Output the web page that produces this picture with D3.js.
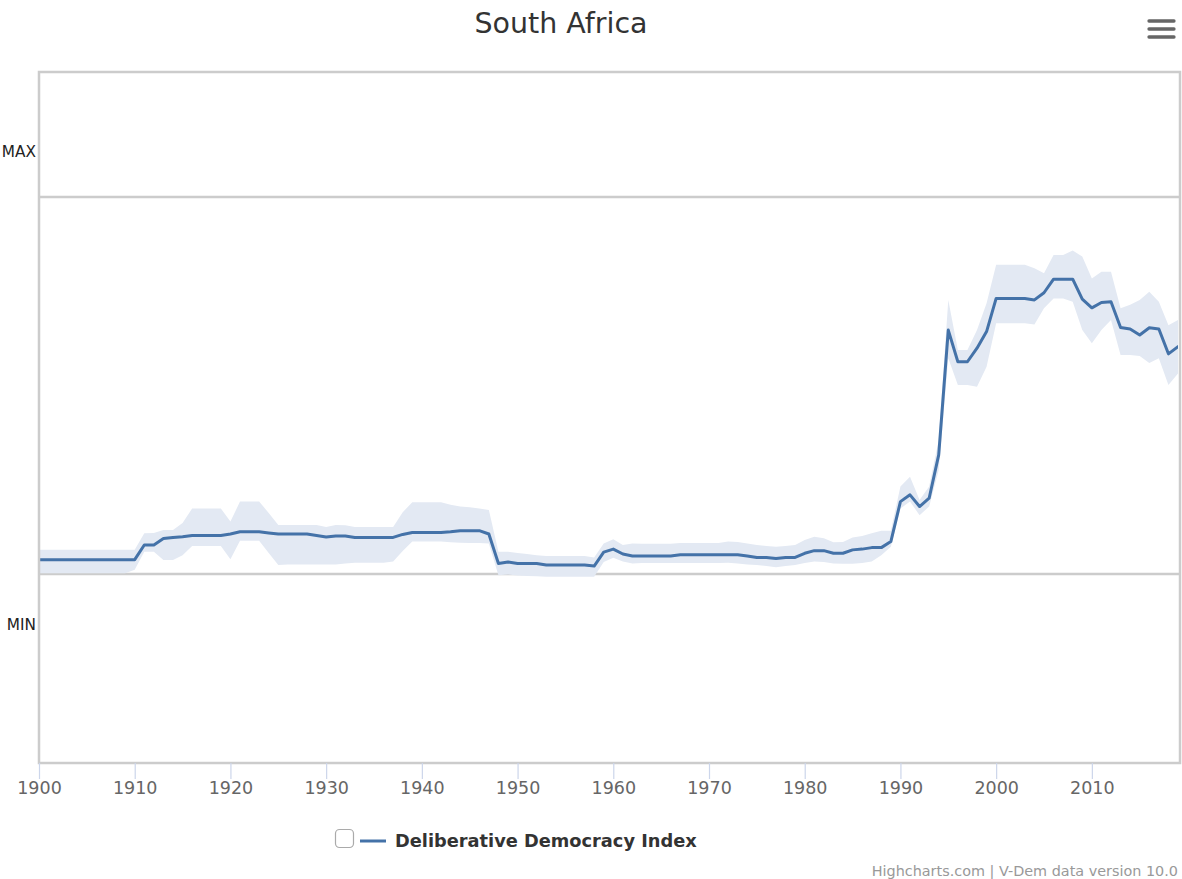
<!DOCTYPE html>
<html>
<head>
<meta charset="utf-8">
<script src="https://cdn.jsdelivr.net/npm/d3@7"></script>
<style>
  html, body { margin: 0; padding: 0; background: #fff; }
  svg { display: block; }
  text { font-family: "DejaVu Sans", "Lucida Grande", sans-serif; }
</style>
</head>
<body>
<div id="chart"></div>
<script>
const title = "South Africa";
const seriesName = "Deliberative Democracy Index";
const credits = "Highcharts.com | V-Dem data version 10.0";
const startYear = 1900;
const endYear = 2019;
const xTicks = [1900, 1910, 1920, 1930, 1940, 1950, 1960, 1970, 1980, 1990, 2000, 2010];
const yPlotLines = [{ value: 0, label: "MIN" }, { value: 1, label: "MAX" }];

const ddi = [
  0.038,0.038,0.038,0.038,0.038,0.038,0.038,0.038,0.038,0.038,
  0.038,0.077,0.077,0.094,0.097,0.099,0.102,0.102,0.102,0.102,
  0.106,0.112,0.112,0.112,0.109,0.106,0.106,0.106,0.106,0.102,
  0.098,0.101,0.101,0.097,0.097,0.097,0.097,0.097,0.105,0.110,
  0.110,0.110,0.110,0.112,0.115,0.115,0.115,0.106,0.028,0.032,
  0.028,0.028,0.028,0.024,0.024,0.024,0.024,0.024,0.021,0.058,
  0.066,0.053,0.048,0.048,0.048,0.048,0.048,0.051,0.051,0.051,
  0.051,0.051,0.051,0.051,0.048,0.044,0.044,0.041,0.044,0.044,
  0.055,0.062,0.062,0.055,0.055,0.064,0.066,0.070,0.070,0.086,
  0.192,0.210,0.179,0.201,0.316,0.647,0.563,0.563,0.599,0.643,
  0.731,0.731,0.731,0.731,0.727,0.746,0.782,0.782,0.782,0.729,
  0.706,0.720,0.722,0.654,0.650,0.634,0.653,0.650,0.584,0.603
];
const ddiHigh = [
  0.064,0.064,0.064,0.064,0.064,0.064,0.064,0.064,0.064,0.064,
  0.064,0.108,0.109,0.117,0.117,0.135,0.174,0.174,0.174,0.174,
  0.139,0.192,0.192,0.192,0.162,0.130,0.130,0.130,0.130,0.130,
  0.125,0.130,0.129,0.125,0.125,0.125,0.125,0.125,0.164,0.190,
  0.190,0.190,0.190,0.184,0.179,0.177,0.174,0.170,0.059,0.059,
  0.056,0.053,0.050,0.048,0.048,0.048,0.048,0.048,0.044,0.081,
  0.092,0.077,0.081,0.080,0.080,0.080,0.080,0.082,0.082,0.082,
  0.082,0.082,0.086,0.085,0.081,0.077,0.074,0.072,0.074,0.077,
  0.090,0.099,0.095,0.084,0.085,0.097,0.101,0.108,0.115,0.115,
  0.232,0.258,0.196,0.232,0.355,0.727,0.594,0.594,0.647,0.718,
  0.820,0.820,0.820,0.820,0.811,0.798,0.846,0.846,0.858,0.842,
  0.784,0.802,0.802,0.705,0.714,0.727,0.749,0.722,0.660,0.674
];
const ddiLow = [
  0.002,0.002,0.002,0.002,0.002,0.002,0.002,0.002,0.002,0.002,
  0.011,0.059,0.059,0.037,0.037,0.050,0.074,0.074,0.074,0.074,
  0.039,0.088,0.088,0.088,0.056,0.024,0.025,0.025,0.025,0.025,
  0.025,0.025,0.028,0.030,0.030,0.030,0.030,0.033,0.061,0.086,
  0.086,0.086,0.086,0.084,0.083,0.082,0.082,0.081,-0.003,-0.001,
  -0.004,-0.005,-0.006,-0.007,-0.007,-0.007,-0.007,-0.007,-0.007,0.032,
  0.043,0.033,0.028,0.029,0.029,0.029,0.029,0.029,0.029,0.029,
  0.029,0.029,0.030,0.028,0.025,0.024,0.021,0.018,0.021,0.024,
  0.029,0.033,0.032,0.028,0.027,0.027,0.029,0.033,0.050,0.072,
  0.174,0.192,0.156,0.179,0.276,0.572,0.501,0.501,0.497,0.550,
  0.665,0.665,0.665,0.665,0.662,0.705,0.731,0.731,0.722,0.647,
  0.612,0.647,0.674,0.581,0.581,0.578,0.560,0.572,0.501,0.532
];

const W = 1182, H = 879;
const plot = { left: 39, right: 1178, top: 72, bottom: 763 };
const lineColor = "#4472a8";
const bandColor = "#e3e9f3";

const svg = d3.select("#chart").append("svg").attr("width", W).attr("height", H);

const x = d3.scaleLinear().domain([startYear, endYear]).range([plot.left, plot.right]);
const y = d3.scaleLinear().domain([0, 1]).range([574, 197]);

const data = ddi.map((v, i) => ({ year: startYear + i, v, lo: ddiLow[i], hi: ddiHigh[i] }));

// title
svg.append("text").attr("x", 561).attr("y", 33).attr("text-anchor", "middle")
  .attr("font-size", 28.5).attr("fill", "#333").text(title);

// menu icon
[21, 29, 37].forEach(yy => {
  svg.append("line").attr("x1", 1149).attr("x2", 1174).attr("y1", yy).attr("y2", yy)
    .attr("stroke", "#666").attr("stroke-width", 3.3).attr("stroke-linecap", "round");
});

// clip
svg.append("clipPath").attr("id", "clip").append("rect")
  .attr("x", plot.left).attr("y", plot.top)
  .attr("width", plot.right - plot.left).attr("height", plot.bottom - plot.top);

// plot lines
yPlotLines.forEach(p => {
  svg.append("line").attr("x1", plot.left).attr("x2", plot.right + 2)
    .attr("y1", y(p.value)).attr("y2", y(p.value))
    .attr("stroke", "#cccccc").attr("stroke-width", 2.5);
});

const g = svg.append("g").attr("clip-path", "url(#clip)");

g.append("path").datum(data)
  .attr("d", d3.area().x(d => x(d.year)).y0(d => y(d.lo)).y1(d => y(d.hi)))
  .attr("fill", bandColor);

g.append("path").datum(data)
  .attr("d", d3.line().x(d => x(d.year)).y(d => y(d.v)))
  .attr("fill", "none").attr("stroke", lineColor).attr("stroke-width", 3)
  .attr("stroke-linejoin", "round").attr("stroke-linecap", "round");

// plot border
svg.append("rect").attr("x", plot.left).attr("y", plot.top)
  .attr("width", plot.right + 2 - plot.left).attr("height", plot.bottom - plot.top)
  .attr("fill", "none").attr("stroke", "#cccccc").attr("stroke-width", 2.5);

// y labels
const yLabelPos = { MAX: 152, MIN: 625 };
yPlotLines.forEach(p => {
  svg.append("text").attr("x", 36).attr("y", yLabelPos[p.label]).attr("dy", "0.35em")
    .attr("text-anchor", "end").attr("font-size", 15.3).attr("fill", "#222").text(p.label);
});

// x axis
const xAxis = d3.axisBottom(x).tickValues(xTicks).tickFormat(d3.format("d")).tickSize(16).tickPadding(3);
const ax = svg.append("g").attr("transform", `translate(0,${plot.bottom})`).call(xAxis);
ax.select(".domain").remove();
ax.selectAll(".tick line").attr("stroke", "#ccd6eb").attr("stroke-width", 1.2);
ax.selectAll(".tick text").attr("fill", "#666").attr("font-size", 17.5)
  .attr("font-family", "DejaVu Sans, sans-serif");

// legend
svg.append("rect").attr("x", 335.5).attr("y", 829.5).attr("width", 18).attr("height", 18)
  .attr("rx", 4).attr("fill", "#fff").attr("stroke", "#aaa").attr("stroke-width", 1.2);
svg.append("line").attr("x1", 360).attr("x2", 386).attr("y1", 841).attr("y2", 841)
  .attr("stroke", lineColor).attr("stroke-width", 3);
svg.append("text").attr("x", 395).attr("y", 841).attr("dy", "0.35em")
  .attr("font-size", 17.8).attr("font-weight", "bold").attr("fill", "#333").text(seriesName);

// credits
svg.append("text").attr("x", 1178).attr("y", 871).attr("dy", "0.35em").attr("text-anchor", "end")
  .attr("font-size", 14.4).attr("fill", "#999").text(credits);
</script>
</body>
</html>
